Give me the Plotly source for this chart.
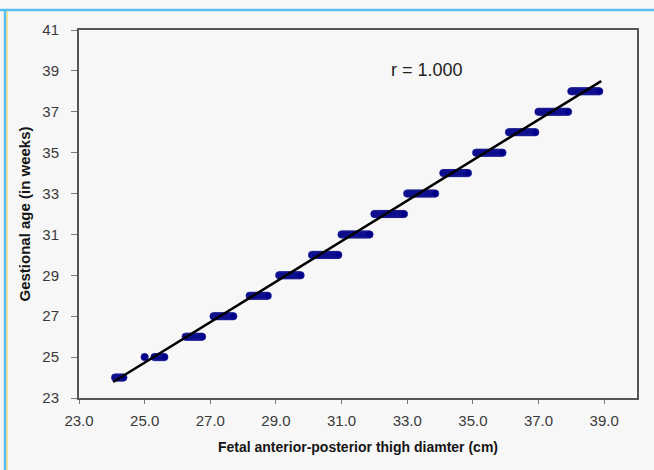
import plotly.graph_objects as go

weeks = [24, 25, 26, 27, 28, 29, 30, 31, 32, 33, 34, 35, 36, 37, 38]
thigh_by_week = {
    24: [24.1, 24.15, 24.2, 24.25, 24.3, 24.35],
    25: [25.0, 25.3, 25.35, 25.4, 25.45, 25.5, 25.55, 25.6],
    26: [26.25, 26.3, 26.35, 26.4, 26.45, 26.5, 26.55, 26.6, 26.65, 26.7, 26.75],
    27: [27.1, 27.15, 27.2, 27.25, 27.3, 27.35, 27.4, 27.45, 27.5, 27.55, 27.6, 27.65, 27.7],
    28: [28.2, 28.25, 28.3, 28.35, 28.4, 28.45, 28.5, 28.55, 28.6, 28.65, 28.7, 28.75],
    29: [29.1, 29.15, 29.2, 29.25, 29.3, 29.35, 29.4, 29.45, 29.5, 29.55, 29.6, 29.65, 29.7, 29.75],
    30: [30.1, 30.15, 30.2, 30.25, 30.3, 30.35, 30.4, 30.45, 30.5, 30.55, 30.6, 30.65, 30.7, 30.75, 30.8, 30.85, 30.9],
    31: [31.0, 31.05, 31.1, 31.15, 31.2, 31.25, 31.3, 31.35, 31.4, 31.45, 31.5, 31.55, 31.6, 31.65, 31.7, 31.75, 31.8, 31.85],
    32: [32.0, 32.05, 32.1, 32.15, 32.2, 32.25, 32.3, 32.35, 32.4, 32.45, 32.5, 32.55, 32.6, 32.65, 32.7, 32.75, 32.8, 32.85, 32.9],
    33: [33.0, 33.05, 33.1, 33.15, 33.2, 33.25, 33.3, 33.35, 33.4, 33.45, 33.5, 33.55, 33.6, 33.65, 33.7, 33.75, 33.8, 33.85],
    34: [34.1, 34.15, 34.2, 34.25, 34.3, 34.35, 34.4, 34.45, 34.5, 34.55, 34.6, 34.65, 34.7, 34.75, 34.8, 34.85],
    35: [35.1, 35.15, 35.2, 35.25, 35.3, 35.35, 35.4, 35.45, 35.5, 35.55, 35.6, 35.65, 35.7, 35.75, 35.8, 35.85, 35.9],
    36: [36.1, 36.15, 36.2, 36.25, 36.3, 36.35, 36.4, 36.45, 36.5, 36.55, 36.6, 36.65, 36.7, 36.75, 36.8, 36.85, 36.9],
    37: [37.0, 37.05, 37.1, 37.15, 37.2, 37.25, 37.3, 37.35, 37.4, 37.45, 37.5, 37.55, 37.6, 37.65, 37.7, 37.75, 37.8, 37.85, 37.9],
    38: [38.0, 38.05, 38.1, 38.15, 38.2, 38.25, 38.3, 38.35, 38.4, 38.45, 38.5, 38.55, 38.6, 38.65, 38.7, 38.75, 38.8, 38.85],
}
fit_slope = 0.99
fit_intercept = -0.02
fit_x = [24.04, 38.91]
r_label = "r = 1.000"
x_ticks = [23.0, 25.0, 27.0, 29.0, 31.0, 33.0, 35.0, 37.0, 39.0]
y_ticks = [23, 25, 27, 29, 31, 33, 35, 37, 39, 41]

xs, ys = [], []
for w in weeks:
    for v in thigh_by_week[w]:
        xs.append(v)
        ys.append(w)

fit_y = [fit_slope * v + fit_intercept for v in fit_x]

fig = go.Figure()
fig.add_trace(go.Scatter(
    x=xs, y=ys, mode="markers",
    marker=dict(symbol="circle", size=7.5, color="#000088",
                line=dict(color="#2a2a9a", width=0.6)),
    showlegend=False, hoverinfo="skip"))
fig.add_trace(go.Scatter(
    x=fit_x, y=fit_y, mode="lines",
    line=dict(color="#000000", width=2.5),
    showlegend=False, hoverinfo="skip"))

FONT = "Liberation Sans, Arial, sans-serif"
axis_font = dict(family=FONT, size=15, color="#3a3a3a")

fig.update_xaxes(
    range=[23, 40], tickvals=x_ticks, ticktext=[f"{t:.1f}" for t in x_ticks],
    showgrid=False, zeroline=False, showline=True, linecolor="#555555", linewidth=2,
    mirror=True, ticks="outside", ticklen=4, tickcolor="#777777", tickwidth=1,
    tickfont=axis_font, ticklabelstandoff=4,
    title=dict(text="<b>Fetal anterior-posterior thigh diamter (cm)</b>",
               font=dict(family=FONT, size=14, color="#151515"), standoff=14))
fig.update_yaxes(
    range=[23, 41], tickvals=y_ticks, ticktext=[str(t) for t in y_ticks],
    showgrid=False, zeroline=False, showline=True, linecolor="#555555", linewidth=2,
    mirror=True, ticks="outside", ticklen=6, tickcolor="#777777", tickwidth=1,
    tickfont=axis_font, ticklabelstandoff=9,
    title=dict(text="<b>Gestional age (in weeks)</b>",
               font=dict(family=FONT, size=15, color="#151515"), standoff=8))

fig.add_annotation(x=33.6, y=39.05, text=r_label, showarrow=False,
                   font=dict(family=FONT, size=18, color="#222222"))

# page frame lines (blue top and left edge, thin yellow inner line)
W, H = 654, 470
L, R, T, B = 79, 17, 30, 72
pw, ph = W - L - R, H - T - B
def px(x):
    return (x - L) / pw
def py(y):
    return (H - B - y) / ph
fig.add_shape(type="line", xref="paper", yref="paper", x0=px(0), x1=px(W), y0=py(10), y1=py(10),
              line=dict(color="#55bdf2", width=2.5))
fig.add_shape(type="line", xref="paper", yref="paper", x0=px(5), x1=px(5), y0=py(9), y1=py(H),
              line=dict(color="#55bdf2", width=2.5))
fig.add_shape(type="line", xref="paper", yref="paper", x0=px(7), x1=px(7), y0=py(11), y1=py(H),
              line=dict(color="#f2d04a", width=1))

fig.update_layout(
    width=W, height=H, margin=dict(l=L, r=R, t=T, b=B),
    paper_bgcolor="#f7f7f7", plot_bgcolor="#f7f7f7",
    font=axis_font,
)
fig.write_html("out.html")
